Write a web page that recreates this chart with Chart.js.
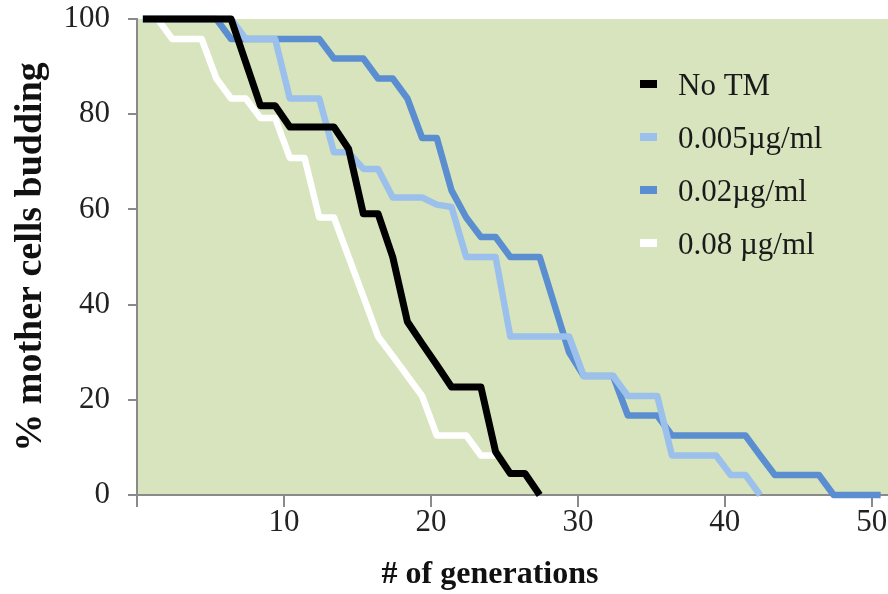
<!DOCTYPE html>
<html>
<head>
<meta charset="utf-8">
<script src="https://cdn.jsdelivr.net/npm/chart.js@4/dist/chart.umd.min.js"></script>
<style>
  html, body { margin: 0; padding: 0; background: #ffffff; }
  #wrap { width: 888px; height: 594px; }
</style>
</head>
<body>
<div id="wrap"><canvas id="c" width="888" height="594"></canvas></div>
<script>
// ---- data ----
const seriesLabels = ["No TM", "0.005\u00B5g/ml", "0.02\u00B5g/ml", "0.08 \u00B5g/ml"];

const noTM_gen = [0.4, 6.4, 7.4, 8.4, 9.4, 10.4, 13.4, 14.4, 15.4, 16.4, 17.4, 18.4, 19.4, 20.4, 21.4, 23.4, 24.4, 25.4, 26.4, 27.4];
const noTM_pct = [100, 100, 90.9, 81.8, 81.8, 77.3, 77.3, 72.7, 59.1, 59.1, 50, 36.4, 31.8, 27.3, 22.7, 22.7, 9.1, 4.5, 4.5, 0];

const tm005_gen = [0.4, 6.4, 7.4, 9.4, 10.4, 12.4, 13.4, 14.4, 15.4, 16.4, 17.4, 19.4, 20.4, 21.4, 22.4, 24.4, 25.4, 29.4, 30.4, 32.4, 33.4, 35.4, 36.4, 39.4, 40.4, 41.4, 42.4];
const tm005_pct = [100, 100, 95.8, 95.8, 83.3, 83.3, 72, 72, 68.5, 68.5, 62.5, 62.5, 61, 60.5, 50, 50, 33.3, 33.3, 25, 25, 20.8, 20.8, 8.3, 8.3, 4.2, 4.2, 0];

const tm02_gen = [0.4, 5.4, 6.4, 12.4, 13.4, 15.4, 16.4, 17.4, 18.4, 19.4, 20.4, 21.4, 22.4, 23.4, 24.4, 25.4, 27.4, 28.4, 29.4, 30.4, 32.4, 33.4, 35.4, 36.4, 41.4, 42.4, 43.4, 46.4, 47.4, 50.6];
const tm02_pct = [100, 100, 95.8, 95.8, 91.7, 91.7, 87.5, 87.5, 83.3, 75, 75, 64, 58.3, 54.2, 54.2, 50, 50, 40, 30, 25, 25, 16.7, 16.7, 12.5, 12.5, 8.3, 4.2, 4.2, 0, 0];

const tm08_gen = [0.4, 1.4, 2.4, 4.4, 5.4, 6.4, 7.4, 8.4, 9.4, 10.4, 11.4, 12.4, 13.4, 14.4, 15.4, 16.4, 17.4, 18.4, 19.4, 20.4, 22.4, 23.4, 24.4];
const tm08_pct = [100, 100, 95.8, 95.8, 87.5, 83.3, 83.3, 79.2, 79.2, 70.8, 70.8, 58.3, 58.3, 50, 41.7, 33.3, 29.2, 25, 20.8, 12.5, 12.5, 8.3, 8.3];

const xTickValues = [0, 10, 20, 30, 40, 50];
const yTickValues = [0, 20, 40, 60, 80, 100];
const xTitle = "# of generations";
const yTitle = "% mother cells budding";

// ---- styles ----
const colors = ["#000000", "#9cc0ec", "#5a8ed1", "#ffffff"];
const plotBg = "#d7e4bd";
const axisColor = "#8a8a8a";
const serif = "'Liberation Serif', 'Times New Roman', serif";

function pts(xs, ys) { return xs.map((x, i) => ({ x: x, y: ys[i] })); }

const allGen = [noTM_gen, tm005_gen, tm02_gen, tm08_gen];
const allPct = [noTM_pct, tm005_pct, tm02_pct, tm08_pct];

const datasets = seriesLabels.map((lab, i) => ({
  label: lab,
  data: pts(allGen[i], allPct[i]),
  borderColor: colors[i],
  backgroundColor: colors[i],
  borderWidth: i === 0 ? 7 : 6.5,
  pointRadius: 0,
  tension: 0,
  fill: false,
  borderJoinStyle: 'round',
  borderCapStyle: 'butt',
  clip: false
}));

const bgPlugin = {
  id: 'plotBg',
  beforeDraw(chart) {
    const { ctx, chartArea: a } = chart;
    ctx.save();
    ctx.fillStyle = plotBg;
    ctx.fillRect(a.left, a.top, a.right - a.left, a.bottom - a.top);
    ctx.restore();
  }
};

const textPlugin = {
  id: 'texts',
  afterDraw(chart) {
    const { ctx } = chart;
    ctx.save();
    // legend inside the plot
    const x0 = 640, textX = 678, y0 = 87, dy = 53;
    ctx.font = "31px " + serif;
    ctx.textBaseline = 'middle';
    ctx.textAlign = 'left';
    chart.data.datasets.forEach((ds, i) => {
      const y = y0 + i * dy;
      ctx.fillStyle = ds.borderColor;
      ctx.fillRect(x0, y - 7, 17, 8);
      ctx.fillStyle = '#1a1a1a';
      ctx.fillText(ds.label, textX, y);
    });
    // x axis title
    ctx.font = "bold 32px " + serif;
    ctx.fillStyle = '#111';
    ctx.textAlign = 'center';
    ctx.fillText(xTitle, 490, 575);
    ctx.restore();
  }
};

new Chart(document.getElementById('c'), {
  type: 'line',
  data: { datasets: datasets },
  options: {
    responsive: false,
    animation: false,
    layout: { padding: { top: 0, right: 0, left: 0, bottom: 0 } },
    plugins: {
      legend: { display: false },
      tooltip: { enabled: false }
    },
    scales: {
      x: {
        type: 'linear',
        min: 0,
        max: 51.1,
        afterBuildTicks(s) { s.ticks = xTickValues.map(v => ({ value: v })); },
        afterFit(s) { s.height = 99; s.paddingLeft = 0; s.paddingRight = 0; },
        ticks: {
          autoSkip: false,
          maxRotation: 0,
          padding: -3,
          color: '#222',
          font: { family: serif, size: 31 },
          callback: (v) => (v === 0 ? '' : String(v))
        },
        grid: { display: true, drawOnChartArea: false, drawTicks: true, tickLength: 12, color: axisColor, lineWidth: 2 },
        border: { display: true, color: axisColor, width: 2 },
        title: { display: false }
      },
      y: {
        type: 'linear',
        min: 0,
        max: 100,
        afterBuildTicks(s) { s.ticks = yTickValues.map(v => ({ value: v })); },
        afterFit(s) { s.width = 137; s.paddingTop = 19; s.paddingBottom = 0; },
        ticks: {
          padding: 18,
          color: '#222',
          font: { family: serif, size: 31 }
        },
        grid: { display: true, drawOnChartArea: false, drawTicks: true, tickLength: 9, color: axisColor, lineWidth: 2 },
        border: { display: true, color: axisColor, width: 2 },
        title: {
          display: true,
          text: yTitle,
          color: '#111',
          font: { family: serif, size: 38, weight: 'bold' },
          padding: { top: 8, bottom: 0 }
        }
      }
    }
  },
  plugins: [bgPlugin, textPlugin]
});
</script>
</body>
</html>
